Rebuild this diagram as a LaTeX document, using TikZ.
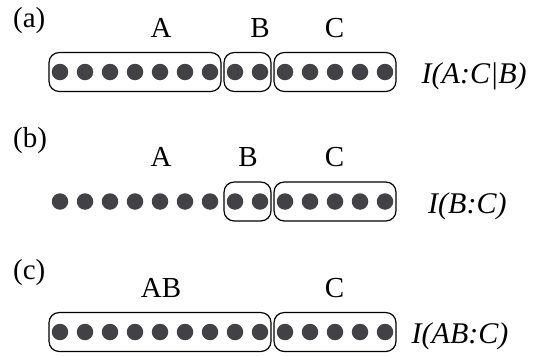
\documentclass[tikz,border=0pt]{standalone}
\usepackage{fontspec}
\setmainfont{Liberation Serif}
\usetikzlibrary{fit}
\definecolor{dotgray}{HTML}{424246}
\tikzset{
  qubit/.style={circle, fill=dotgray, inner sep=0pt, minimum size=16.5pt},
  group/.style={draw, rounded corners=10pt, line width=1.2pt, inner xsep=2.5pt, inner ysep=11pt},
  lbl/.style={font=\fontsize{29}{34}\selectfont, inner sep=0pt, anchor=base},
  tag/.style={font=\fontsize{29}{34}\selectfont, inner sep=0pt, anchor=base west},
  mi/.style={font=\fontsize{30}{35}\selectfont\itshape, inner sep=0pt, anchor=base west},
}
\begin{document}
\begin{tikzpicture}[x=1pt, y=-1pt]
\useasboundingbox (0,0) rectangle (546,356);

% three rows of fourteen sites
\foreach \r/\y in {a/72, b/201.5, c/332} {
  \foreach \i in {0,...,13} {
    \node[qubit] (\r\i) at ({60+25*\i}, \y) {};
  }
}

% row (a): A | B | C
\node[tag] (ta) at (13, 27.5) {(a)};
\node[lbl] (la) at (161, 37.3) {A};
\node[lbl] (lb) at (260, 37.3) {B};
\node[lbl] (lc) at (334.5, 37.3) {C};
\node[group, fit=(a0)(a6)] (ga) {};
\node[group, fit=(a7)(a8)] (gb) {};
\node[group, fit=(a9)(a13)] (gc) {};
\node[mi] (ia) at (421.5, 83.5) {I(A:C|B)};

% row (b): B | C only
\node[tag] (tb) at (13, 147) {(b)};
\node[lbl] (lb2) at (161, 166.5) {A};
\node[lbl] (lbb) at (248, 166.5) {B};
\node[lbl] (lbc) at (334.5, 166.5) {C};
\node[group, fit=(b7)(b8)] (hb) {};
\node[group, fit=(b9)(b13)] (hc) {};
\node[mi] (ib) at (428, 213) {I(B:C)};

% row (c): AB | C
\node[tag] (tc) at (13, 279) {(c)};
\node[lbl] (lab) at (161, 297) {AB};
\node[lbl] (lcc) at (334.5, 297) {C};
\node[group, fit=(c0)(c8)] (kab) {};
\node[group, fit=(c9)(c13)] (kc) {};
\node[mi] (ic) at (411.5, 343.5) {I(AB:C)};
\end{tikzpicture}
\end{document}
